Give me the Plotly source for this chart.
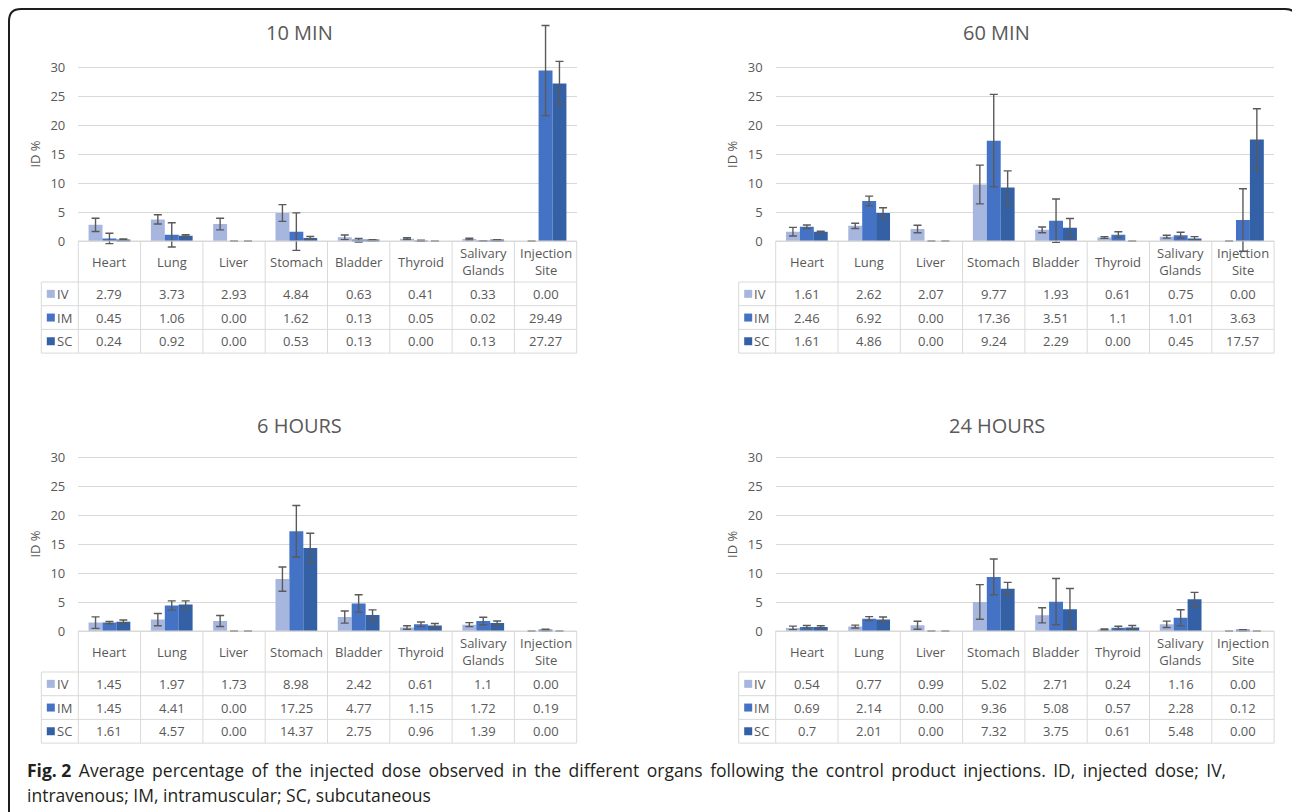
import plotly.graph_objects as go

W, H = 1292, 812

ORGANS = ["Heart", "Lung", "Liver", "Stomach", "Bladder", "Thyroid",
          "Salivary Glands", "Injection Site"]
ORGAN_LABELS = ["Heart", "Lung", "Liver", "Stomach", "Bladder", "Thyroid",
                "Salivary<br>Glands", "Injection<br>Site"]
SERIES = ["IV", "IM", "SC"]
COLORS = {"IV": "#A6B6DE", "IM": "#4472C4", "SC": "#3460A6"}
TITLES = ["10 MIN", "60 MIN", "6 HOURS", "24 HOURS"]

# table values (as printed)
IV_10 = ["2.79", "3.73", "2.93", "4.84", "0.63", "0.41", "0.33", "0.00"]
IM_10 = ["0.45", "1.06", "0.00", "1.62", "0.13", "0.05", "0.02", "29.49"]
SC_10 = ["0.24", "0.92", "0.00", "0.53", "0.13", "0.00", "0.13", "27.27"]
IV_60 = ["1.61", "2.62", "2.07", "9.77", "1.93", "0.61", "0.75", "0.00"]
IM_60 = ["2.46", "6.92", "0.00", "17.36", "3.51", "1.1", "1.01", "3.63"]
SC_60 = ["1.61", "4.86", "0.00", "9.24", "2.29", "0.00", "0.45", "17.57"]
IV_6H = ["1.45", "1.97", "1.73", "8.98", "2.42", "0.61", "1.1", "0.00"]
IM_6H = ["1.45", "4.41", "0.00", "17.25", "4.77", "1.15", "1.72", "0.19"]
SC_6H = ["1.61", "4.57", "0.00", "14.37", "2.75", "0.96", "1.39", "0.00"]
IV_24 = ["0.54", "0.77", "0.99", "5.02", "2.71", "0.24", "1.16", "0.00"]
IM_24 = ["0.69", "2.14", "0.00", "9.36", "5.08", "0.57", "2.28", "0.12"]
SC_24 = ["0.7", "2.01", "0.00", "7.32", "3.75", "0.61", "5.48", "0.00"]

# error bars
IV_10_ERR = [1.15, 0.8, 1.0, 1.45, 0.4, 0.15, 0.15, 0]
IM_10_ERR = [0.9, 2.1, 0, 3.25, 0.3, 0.1, 0.05, 7.8]
SC_10_ERR = [0.1, 0.15, 0, 0.25, 0.1, 0, 0.1, 3.8]
IV_60_ERR = [0.75, 0.45, 0.65, 3.35, 0.5, 0.15, 0.25, 0]
IM_60_ERR = [0.3, 0.85, 0, 8.0, 3.75, 0.5, 0.5, 5.4]
SC_60_ERR = [0.1, 0.9, 0, 2.9, 1.6, 0, 0.3, 5.3]
IV_6H_ERR = [1.0, 1.05, 0.95, 2.1, 1.05, 0.3, 0.35, 0]
IM_6H_ERR = [0.2, 0.8, 0, 4.45, 1.5, 0.4, 0.65, 0.1]
SC_6H_ERR = [0.3, 0.65, 0, 2.55, 0.9, 0.35, 0.35, 0]
IV_24_ERR = [0.3, 0.25, 0.7, 3.0, 1.3, 0.1, 0.55, 0]
IM_24_ERR = [0.25, 0.35, 0, 3.1, 4.0, 0.25, 1.4, 0.1]
SC_24_ERR = [0.2, 0.4, 0, 1.1, 3.6, 0.35, 1.2, 0]

Y_TICKS = [0, 5, 10, 15, 20, 25, 30]
Y_TITLE = "ID %"
CAPTION_BOLD = "Fig. 2"
CAPTION_1 = (" Average percentage of the injected dose observed in the different "
             "organs following the control product injections. ID, injected dose; IV,")
CAPTION_2 = "intravenous; IM, intramuscular; SC, subcutaneous"

DATA = [
    {"IV": IV_10, "IM": IM_10, "SC": SC_10,
     "err": {"IV": IV_10_ERR, "IM": IM_10_ERR, "SC": SC_10_ERR}},
    {"IV": IV_60, "IM": IM_60, "SC": SC_60,
     "err": {"IV": IV_60_ERR, "IM": IM_60_ERR, "SC": SC_60_ERR}},
    {"IV": IV_6H, "IM": IM_6H, "SC": SC_6H,
     "err": {"IV": IV_6H_ERR, "IM": IM_6H_ERR, "SC": SC_6H_ERR}},
    {"IV": IV_24, "IM": IM_24, "SC": SC_24,
     "err": {"IV": IV_24_ERR, "IM": IM_24_ERR, "SC": SC_24_ERR}},
]

# ---- layout geometry (pixels) ----
PLOT_LEFT = [78.3, 775.7, 78.3, 775.7]
ZERO_Y = [241.0, 241.0, 631.0, 631.0]
CAT_W = 62.3
S = 5.78            # px per unit
YMIN, YMAX = -3, 39
LEG_W = 37.0
HEAD_H = 41.0
ROW_H = 23.7
FONT = "Open Sans"
TXT = "#595959"
GRID = "#d9d9d9"


def px(p):
    return p / W


def py(p):
    return 1 - p / H


fig = go.Figure()
shapes = []
annotations = []
ncat = len(ORGANS)

for k in range(4):
    ax = "" if k == 0 else str(k + 1)
    left = PLOT_LEFT[k]
    right = left + CAT_W * ncat
    zero = ZERO_Y[k]
    d = DATA[k]
    for s in SERIES:
        vals = [float(v) for v in d[s]]
        fig.add_trace(go.Bar(
            x=ORGANS, y=vals, name=s, showlegend=False,
            marker=dict(color=COLORS[s], line=dict(width=0)),
            error_y=dict(type="data", array=d["err"][s], visible=True,
                         color="#5a5a5a", thickness=1.4, width=4),
            xaxis="x" + ax, yaxis="y" + ax, cliponaxis=False,
        ))
    fig.layout["xaxis" + ax] = dict(
        domain=[px(left), px(right)], anchor="y" + ax,
        categoryorder="array", categoryarray=ORGANS,
        range=[-0.5, ncat - 0.5], showticklabels=False, showgrid=False,
        zeroline=False, showline=False, ticks="", fixedrange=True)
    fig.layout["yaxis" + ax] = dict(
        domain=[py(zero - YMIN * S), py(zero - YMAX * S)], anchor="x" + ax,
        range=[YMIN, YMAX], tickvals=Y_TICKS, showgrid=True, gridcolor=GRID,
        gridwidth=1, zeroline=False, showline=False, ticks="",
        ticklabelstandoff=12,
        tickfont=dict(family=FONT, size=13, color=TXT), fixedrange=True)

    # title
    annotations.append(dict(
        text=TITLES[k], xref="paper", yref="paper", x=px(left + 221),
        y=py(zero - 208 if k < 2 else zero - 206), xanchor="center",
        yanchor="middle", showarrow=False,
        font=dict(family=FONT, size=20, color=TXT)))
    # y-axis title
    annotations.append(dict(
        text=Y_TITLE, xref="paper", yref="y" + ax, x=px(left - 43),
        y=(Y_TICKS[0] + Y_TICKS[-1]) / 2, textangle=-90, xanchor="center",
        yanchor="middle", showarrow=False,
        font=dict(family=FONT, size=13, color=TXT)))

    # table geometry
    leg_left = left - LEG_W
    head_bot = zero + HEAD_H
    bottom = head_bot + ROW_H * len(SERIES)
    line = dict(color=GRID, width=1)
    for i in range(ncat + 1):
        xx = px(left + i * CAT_W)
        shapes.append(dict(type="line", xref="paper", yref="paper",
                           x0=xx, x1=xx, y0=py(zero), y1=py(bottom), line=line))
    shapes.append(dict(type="line", xref="paper", yref="paper",
                       x0=px(leg_left), x1=px(leg_left),
                       y0=py(head_bot), y1=py(bottom), line=line))
    shapes.append(dict(type="line", xref="paper", yref="paper",
                       x0=px(left), x1=px(right), y0=py(zero), y1=py(zero),
                       line=line))
    for r in range(len(SERIES) + 1):
        yy = py(head_bot + r * ROW_H)
        shapes.append(dict(type="line", xref="paper", yref="paper",
                           x0=px(leg_left), x1=px(right), y0=yy, y1=yy,
                           line=line))
    for i, lab in enumerate(ORGAN_LABELS):
        annotations.append(dict(
            text=lab, xref="x" + ax, yref="paper", x=ORGANS[i],
            y=py(zero + HEAD_H / 2), xanchor="center", yanchor="middle",
            showarrow=False, font=dict(family=FONT, size=13, color=TXT)))
    for r, s in enumerate(SERIES):
        yc = head_bot + ROW_H * (r + 0.5)
        shapes.append(dict(type="rect", xref="paper", yref="paper",
                           x0=px(leg_left + 5.5), x1=px(leg_left + 13.5),
                           y0=py(yc - 4), y1=py(yc + 4),
                           fillcolor=COLORS[s], line=dict(width=0)))
        annotations.append(dict(
            text=s, xref="paper", yref="paper", x=px(leg_left + 13.5),
            y=py(yc), xanchor="left", yanchor="middle", showarrow=False,
            font=dict(family=FONT, size=13, color=TXT)))
        for i, v in enumerate(d[s]):
            annotations.append(dict(
                text=v, xref="x" + ax, yref="paper", x=ORGANS[i], y=py(yc),
                xanchor="center", yanchor="middle", showarrow=False,
                font=dict(family=FONT, size=13, color=TXT)))

# caption (first line justified: widen the word gaps)
line1 = CAPTION_1.replace(" ", " \u2009")
annotations.append(dict(
    text="<b>" + CAPTION_BOLD + "</b>" + line1, xref="paper", yref="paper",
    x=px(25), y=py(770), xanchor="left", yanchor="middle", showarrow=False,
    font=dict(family=FONT, size=17.5, color="#231f20")))
annotations.append(dict(
    text=CAPTION_2, xref="paper", yref="paper",
    x=px(25), y=py(795), xanchor="left", yanchor="middle", showarrow=False,
    font=dict(family=FONT, size=17.5, color="#231f20")))

# rounded frame
x0, y0, x1, y1, r = 9, 9, 1297, 835, 12
path = (f"M {px(x0)},{py(y0 + r)} Q {px(x0)},{py(y0)} {px(x0 + r)},{py(y0)} "
        f"L {px(x1 - r)},{py(y0)} Q {px(x1)},{py(y0)} {px(x1)},{py(y0 + r)} "
        f"L {px(x1)},{py(y1)} L {px(x0)},{py(y1)} Z")
shapes.append(dict(type="path", xref="paper", yref="paper", path=path,
                   line=dict(color="#1e1e1e", width=2)))

fig.update_layout(
    width=W, height=H, margin=dict(l=0, r=0, t=0, b=0, pad=0),
    paper_bgcolor="white", plot_bgcolor="rgba(0,0,0,0)",
    barmode="group", bargap=0.33, bargroupgap=0,
    shapes=shapes, annotations=annotations, showlegend=False,
    font=dict(family=FONT, color=TXT),
)

fig.write_html("out.html", config={"displayModeBar": False})
